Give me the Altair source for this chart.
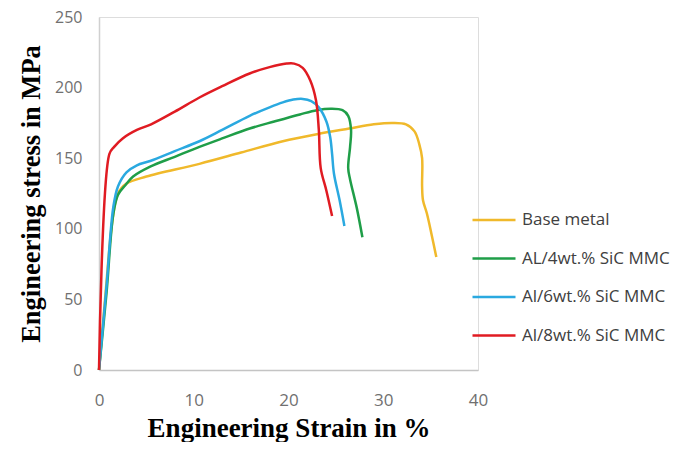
import altair as alt
import pandas as pd

series_names = ["Base metal", "AL/4wt.% SiC MMC", "Al/6wt.% SiC MMC", "Al/8wt.% SiC MMC"]
colors = ["#F0B92B", "#1F9E48", "#2AA9E0", "#E01B22"]

base_x = [0, 0.7, 1.4, 2.0, 2.9, 5, 10.6, 15, 19.4, 23, 26.4, 29, 31, 32.4, 33.3, 33.8, 34.1, 34.1, 34.2, 34.6, 35.1, 35.6]
base_y = [0, 55, 105, 125, 132, 137, 146, 154, 162, 167, 171, 174, 175, 174, 169, 160, 150, 130, 120, 111, 96, 80]

al4_x = [0, 0.8, 1.5, 2.0, 2.8, 3.6, 5.4, 8, 10.6, 13, 15.9, 18.5, 21.2, 23, 24.5, 25.7, 26.3, 26.6, 26.5, 26.3, 26.5, 27.2, 27.8]
al4_y = [0, 55, 110, 124, 131, 137, 144, 151, 158, 164, 171, 176, 181, 184, 185, 184, 180, 170, 158, 143, 135, 115, 94]

al6_x = [0, 0.8, 1.5, 2.0, 2.9, 4, 5.4, 8, 10.6, 13, 15.9, 18, 19.4, 20.5, 21.5, 22.4, 23.2, 24.0, 24.4, 24.6, 24.8, 25.4, 25.9]
al6_y = [0, 60, 115, 130, 140, 145, 148, 155, 162, 170, 180, 186, 189.5, 191.5, 192, 190.5, 186, 176, 165, 153, 139, 120, 102]

al8_x = [0, 1.1, 1.6, 2.5, 4, 5.5, 8, 10.6, 13, 15.9, 18, 19.8, 20.6, 21.5, 22.3, 22.9, 23.2, 23.4, 24.0, 24.6]
al8_y = [0, 153, 158, 164, 170, 174, 183, 193, 201, 210, 214.5, 217, 217, 214, 205, 191, 170, 143, 127, 109]

x_ticks = [0, 10, 20, 30, 40]
y_ticks = [0, 50, 100, 150, 200, 250]

rows = []
for k, (xs, ys) in enumerate([(base_x, base_y), (al4_x, al4_y), (al6_x, al6_y), (al8_x, al8_y)]):
    for i, (a, b) in enumerate(zip(xs, ys)):
        rows.append({"series": series_names[k], "k": k, "i": i, "strain": a, "stress": b})
df = pd.DataFrame(rows)

chart = alt.Chart(df).mark_line(strokeWidth=2.5, interpolate="catmull-rom").encode(
    x=alt.X("strain:Q", scale=alt.Scale(domain=[0, 40], nice=False),
            axis=alt.Axis(values=x_ticks, title="Engineering Strain in %", ticks=False, grid=False,
                          domainColor="#C4C4C4", domainWidth=1.5, labelFont="Open Sans",
                          labelFontSize=17, labelColor="#707070", labelPadding=22, labelFlush=False,
                          titleFont="Liberation Serif", titleFontSize=27, titleFontWeight="bold",
                          titleColor="#000000", titlePadding=7)),
    y=alt.Y("stress:Q", scale=alt.Scale(domain=[0, 250], nice=False),
            axis=alt.Axis(values=y_ticks, title="Engineering stress in MPa", ticks=False, grid=False,
                          domainColor="#D0D0D0", domainWidth=1.5, labelFont="Open Sans",
                          labelFontSize=16, labelColor="#707070", labelPadding=17, labelFlush=False,
                          titleFont="Liberation Serif", titleFontSize=26.5, titleFontWeight="bold",
                          titleColor="#000000", titlePadding=9)),
    color=alt.Color("series:N", scale=alt.Scale(domain=series_names, range=colors),
                    legend=alt.Legend(orient="none", legendX=372, legendY=186, title=None,
                                      symbolType="stroke", symbolSize=1849, symbolStrokeWidth=2.5,
                                      labelFont="Open Sans", labelFontSize=17, labelColor="#404040",
                                      labelOffset=5, rowPadding=4.5, padding=0, clipHeight=34,
                                      labelLimit=300)),
    order=alt.Order("i:Q"),
    detail="k:N",
).properties(
    width=379, height=353,
    autosize=alt.AutoSizeParams(type="none"),
    padding={"left": 91, "top": 9, "right": 212, "bottom": 72},
).configure_view(stroke=None).configure(background="white")

chart.save("out.html", embed_options={"renderer": "svg", "actions": False})
